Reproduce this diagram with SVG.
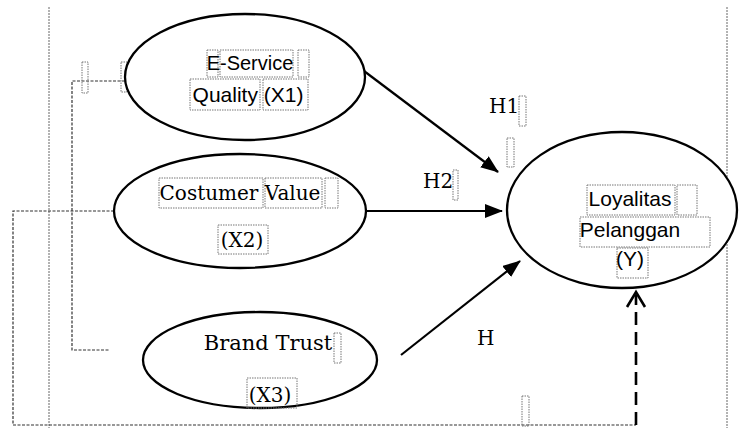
<svg xmlns="http://www.w3.org/2000/svg" width="740" height="428" viewBox="0 0 740 428">
<style>
.node{fill:#fff;stroke:#000;stroke-width:2.3}
.sans{font-family:"Liberation Sans",Arial,sans-serif;font-size:20px;fill:#000}
.serif{font-family:"DejaVu Serif","Liberation Serif",serif;font-size:20px;fill:#000}
.big{font-size:21px}
.mark{fill:none;stroke:#777;stroke-width:1;stroke-dasharray:1.5 1}
.frame{fill:none;stroke:#666;stroke-width:1;stroke-dasharray:2 1}
.conn{fill:none;stroke:#000;stroke-width:2.2}
.dotc{fill:none;stroke:#333;stroke-width:1.2;stroke-dasharray:3 1.5}
</style>
<defs>
<marker id="ah" markerUnits="userSpaceOnUse" markerWidth="18" markerHeight="14" refX="17" refY="7" orient="auto">
<path d="M0,0 L18,7 L0,14 z" fill="#000"/>
</marker>
</defs>
<rect width="740" height="428" fill="#fff"/>
<g id="frames">
<line class="frame" x1="49" y1="7" x2="49" y2="428"/>
<line class="frame" x1="727" y1="7" x2="727" y2="428"/>
</g>
<g id="connectors">
<polyline class="dotc" points="125,81 72,81 72,350 110,350"/>
<polyline class="dotc" points="114,211 13,211 13,425 636,425"/>
<line class="conn" x1="360" y1="68" x2="498" y2="172" marker-end="url(#ah)"/>
<line class="conn" x1="367" y1="211" x2="502" y2="211" marker-end="url(#ah)"/>
<line class="conn" x1="401" y1="355" x2="520" y2="261" marker-end="url(#ah)"/>
<line x1="636" y1="425" x2="636" y2="295" stroke="#000" stroke-width="2.6" stroke-dasharray="13 7"/>
<polyline points="627,307 636,292 645,307" fill="none" stroke="#000" stroke-width="2.6"/>
</g>
<g id="labels">
<text class="serif" x="489" y="113">H1</text>
<text class="serif" x="423" y="188">H2</text>
<text class="serif" x="477" y="345">H</text>
<rect class="mark" x="519" y="96" width="7" height="30"/>
<rect class="mark" x="507" y="138" width="7" height="29"/>
<rect class="mark" x="453" y="170" width="5" height="30"/>
<rect class="mark" x="522" y="396" width="7" height="30"/>
<rect class="mark" x="82" y="62" width="6" height="31"/>
<rect class="mark" x="121" y="62" width="6" height="30"/>
</g>
<g id="node-x1">
<ellipse class="node" cx="245" cy="77" rx="120" ry="63"/>
<rect class="mark" x="207" y="50" width="11" height="27"/>
<rect class="mark" x="220" y="50" width="73" height="27"/>
<rect class="mark" x="298" y="50" width="11" height="27"/>
<rect class="mark" x="190" y="79" width="70" height="31"/>
<rect class="mark" x="263" y="79" width="45" height="31"/>
<text class="sans" x="250" y="70" text-anchor="middle">E-Service</text>
<text class="sans big" x="248" y="102" text-anchor="middle">Quality (X1)</text>
</g>
<g id="node-x2">
<ellipse class="node" cx="240" cy="211" rx="126" ry="57"/>
<rect class="mark" x="159" y="178" width="104" height="30"/>
<rect class="mark" x="265" y="178" width="57" height="30"/>
<rect class="mark" x="325" y="178" width="13" height="30"/>
<rect class="mark" x="218" y="225" width="50" height="29"/>
<text class="serif" x="240" y="200" text-anchor="middle">Costumer Value</text>
<text class="serif" x="242" y="247" text-anchor="middle">(X2)</text>
</g>
<g id="node-x3">
<ellipse class="node" cx="260" cy="360" rx="117" ry="48"/>
<rect class="mark" x="334" y="333" width="7" height="30"/>
<rect class="mark" x="247" y="378" width="50" height="30"/>
<text class="serif big" x="268" y="350" text-anchor="middle">Brand Trust</text>
<text class="serif" x="270" y="402" text-anchor="middle">(X3)</text>
</g>
<g id="node-y">
<ellipse class="node" cx="622" cy="210" rx="115" ry="78"/>
<rect class="mark" x="587" y="185" width="88" height="30"/>
<rect class="mark" x="677" y="185" width="20" height="30"/>
<rect class="mark" x="580" y="217" width="130" height="30"/>
<rect class="mark" x="617" y="248" width="31" height="30"/>
<text class="sans big" x="630" y="206" text-anchor="middle">Loyalitas</text>
<text class="sans big" x="630" y="237" text-anchor="middle">Pelanggan</text>
<text class="sans big" x="630" y="266" text-anchor="middle">(Y)</text>
</g>
</svg>
